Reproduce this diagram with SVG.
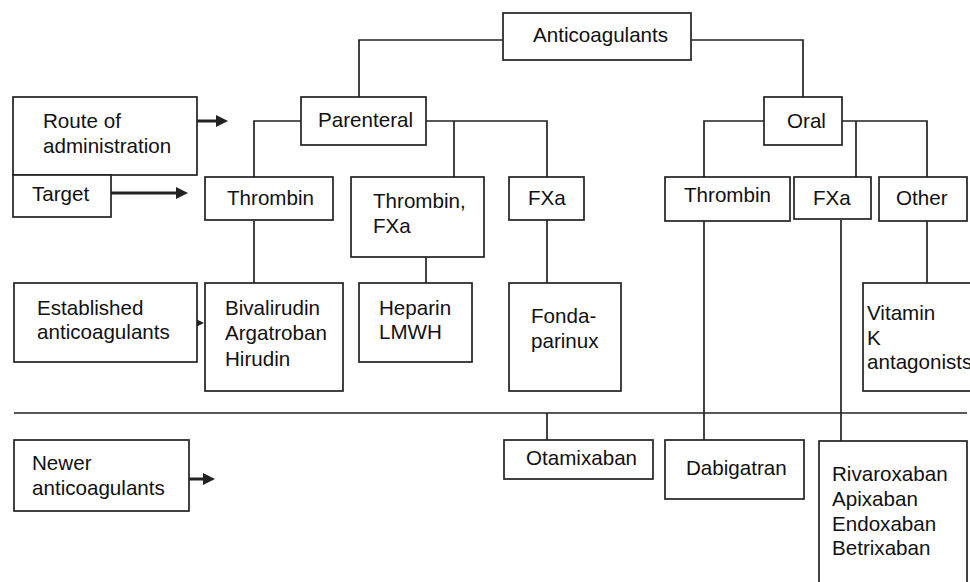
<svg xmlns="http://www.w3.org/2000/svg" width="970" height="582" viewBox="0 0 970 582">
<defs>
<style>
.b{fill:#fff;stroke:#222;stroke-width:1.7}
.l{fill:none;stroke:#222;stroke-width:1.7}
.a{fill:none;stroke:#222;stroke-width:3}
text{font-family:"Liberation Sans",Arial,sans-serif;font-size:20.6px;fill:#111}
</style>
<marker id="ah" markerWidth="12" markerHeight="12" refX="2" refY="6" orient="auto" markerUnits="userSpaceOnUse"><path d="M0,0 L12,6 L0,12 Z" fill="#222"/></marker>
</defs>
<rect width="970" height="582" fill="#fff"/>
<g id="connectors">
<path class="l" d="M503,40 H359 V97"/>
<path class="l" d="M691,40 H803 V97"/>
<path class="l" d="M301,121 H254 V177"/>
<path class="l" d="M426,121 H547 V177"/>
<path class="l" d="M454,121 V177"/>
<path class="l" d="M764,121 H704 V177"/>
<path class="l" d="M842,121 H927 V177"/>
<path class="l" d="M856,121 V177"/>
<path class="l" d="M254,221 V283"/>
<path class="l" d="M426,257 V283"/>
<path class="l" d="M547,220 V283"/>
<path class="l" d="M927,221 V283"/>
<path class="l" d="M704,221 V440"/>
<path class="l" d="M841,220 V441"/>
<path class="l" d="M14,413 H967"/>
<path class="l" d="M547,413 V440"/>
<path class="a" d="M197,121 H218" marker-end="url(#ah)"/>
<path class="a" d="M111,193 H178" marker-end="url(#ah)"/>
<path class="a" d="M184,323 H194" marker-end="url(#ah)"/>
<path class="a" d="M189,479 H205" marker-end="url(#ah)"/>
</g>
<g id="anticoagulants"><rect class="b" x="503" y="13" width="188" height="47"/><text x="533" y="42">Anticoagulants</text></g>
<g id="route"><rect class="b" x="13" y="97" width="184" height="78"/><text x="43" y="128">Route of</text><text x="43" y="153">administration</text></g>
<g id="target"><rect class="b" x="13" y="175" width="98" height="42"/><text x="32" y="201">Target</text></g>
<g id="parenteral"><rect class="b" x="301" y="97" width="125" height="48"/><text x="318" y="127">Parenteral</text></g>
<g id="oral"><rect class="b" x="764" y="97" width="78" height="48"/><text x="787" y="128">Oral</text></g>
<g id="p-thrombin"><rect class="b" x="205" y="177" width="128" height="43"/><text x="227" y="205">Thrombin</text></g>
<g id="p-thrombin-fxa"><rect class="b" x="351" y="177" width="133" height="80"/><text x="373" y="208">Thrombin,</text><text x="373" y="233">FXa</text></g>
<g id="p-fxa"><rect class="b" x="509" y="177" width="75" height="43"/><text x="528" y="205">FXa</text></g>
<g id="o-thrombin"><rect class="b" x="665" y="177" width="125" height="44"/><text x="684" y="202">Thrombin</text></g>
<g id="o-fxa"><rect class="b" x="794" y="177" width="77" height="42"/><text x="813" y="205">FXa</text></g>
<g id="o-other"><rect class="b" x="879" y="177" width="88" height="44"/><text x="896" y="205">Other</text></g>
<g id="established"><rect class="b" x="14" y="283" width="183" height="79"/><text x="37" y="315">Established</text><text x="37" y="339">anticoagulants</text></g>
<g id="bivalirudin"><rect class="b" x="205" y="283" width="138" height="108"/><text x="225" y="315">Bivalirudin</text><text x="225" y="340">Argatroban</text><text x="225" y="366">Hirudin</text></g>
<g id="heparin"><rect class="b" x="359" y="283" width="113" height="79"/><text x="379" y="315">Heparin</text><text x="379" y="339">LMWH</text></g>
<g id="fondaparinux"><rect class="b" x="509" y="283" width="112" height="108"/><text x="531" y="323">Fonda-</text><text x="531" y="348">parinux</text></g>
<g id="vka"><rect class="b" x="863" y="283" width="130" height="108"/><text x="867" y="320">Vitamin</text><text x="867" y="345">K</text><text x="867" y="369">antagonists</text></g>
<g id="newer"><rect class="b" x="14" y="440" width="175" height="71"/><text x="32" y="470">Newer</text><text x="32" y="495">anticoagulants</text></g>
<g id="otamixaban"><rect class="b" x="504" y="440" width="149" height="39"/><text x="526" y="465">Otamixaban</text></g>
<g id="dabigatran"><rect class="b" x="665" y="440" width="139" height="59"/><text x="686" y="475">Dabigatran</text></g>
<g id="xabans"><rect class="b" x="819" y="441" width="148" height="160"/><text x="832" y="481">Rivaroxaban</text><text x="832" y="506">Apixaban</text><text x="832" y="531">Endoxaban</text><text x="832" y="555">Betrixaban</text></g>
</svg>
